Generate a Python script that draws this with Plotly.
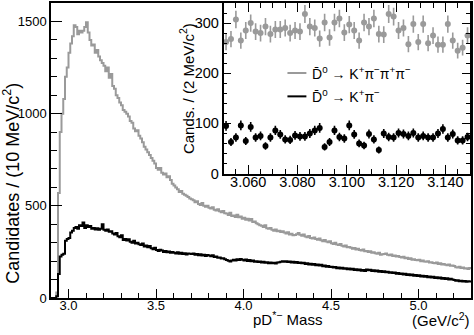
import numpy as np
import plotly.graph_objects as go

# ---------------- data ----------------
# main histogram: 10 MeV bins starting at 2.90 GeV
main_lo = 2.90
main_bin = 0.01
k3pi_counts = [
    0, 0, 0, 30, 570, 900, 1000, 1080, 1200, 1250,
    1330, 1380, 1420, 1480, 1470, 1430, 1450, 1440, 1450, 1470,
    1495, 1440, 1400, 1370, 1375, 1330, 1345, 1310, 1290, 1275,
    1260, 1230, 1250, 1195, 1215, 1150, 1135, 1100, 1085, 1060,
    1045, 1020, 1010, 1000, 985, 960, 950, 920, 905, 910,
    880, 865, 845, 820, 805, 790, 775, 760, 745, 730,
    705, 695, 705, 680, 670, 675, 655, 660, 640, 620,
    610, 600, 590, 575, 580, 565, 560, 555, 548, 540,
    535, 530, 520, 525, 510, 505, 515, 500, 495, 500,
    490, 485, 492, 478, 475, 482, 470, 465, 472, 460,
    458, 450, 462, 445, 448, 440, 452, 438, 442, 430,
    435, 425, 430, 420, 428, 412, 415, 405, 400, 395,
    392, 385, 395, 378, 375, 380, 370, 365, 372, 362,
    365, 358, 362, 355, 350, 356, 345, 348, 340, 342,
    346, 353, 343, 338, 344, 333, 330, 336, 326, 323,
    328, 320, 316, 323, 313, 308, 314, 306, 303, 308,
    297, 293, 300, 290, 287, 293, 283, 280, 285, 275,
    277, 273, 267, 271, 263, 267, 260, 257, 263, 253,
    255, 250, 253, 245, 248, 243, 240, 245, 235, 237,
    238, 242, 235, 232, 236, 228, 230, 225, 228, 222,
    220, 224, 216, 218, 212, 215, 208, 210, 206, 205,
    208, 200, 203, 198, 196, 200, 192, 194, 190, 188,
    192, 185, 188, 182, 184, 180, 178, 182, 175, 176,
    173, 167, 165, 169, 163, 165, 160, 162, 157, 163,
]
kpi_counts = [
    0, 0, 0, 10, 130, 225, 235, 240, 310, 320,
    325, 355, 365, 380, 385, 375, 395, 390, 410, 380,
    395, 385, 390, 375, 380, 372, 378, 370, 375, 400,
    370, 365, 372, 360, 362, 350, 345, 352, 335, 330,
    340, 315, 320, 312, 318, 305, 300, 310, 295, 300,
    292, 288, 295, 280, 285, 275, 282, 270, 265, 272,
    260, 255, 262, 258, 250, 255, 248, 252, 245, 250,
    246, 242, 248, 240, 245, 238, 243, 236, 241, 240,
    238, 242, 234, 239, 232, 237, 230, 235, 228, 233,
    230, 226, 232, 222, 225, 218, 220, 214, 216, 210,
    206, 202, 198, 203, 207, 203, 210, 206, 211, 207,
    204, 209, 201, 206, 199, 203, 197, 200, 195, 198,
    193, 196, 191, 194, 189, 192, 188, 191, 187, 192,
    194, 197, 200, 196, 199, 195, 198, 193, 196, 191,
    195, 190, 193, 188, 191, 185, 188, 182, 186, 180,
    184, 178, 182, 176, 180, 172, 176, 170, 174, 168,
    170, 165, 168, 162, 166, 160, 164, 158, 162, 156,
    160, 154, 158, 152, 156, 150, 154, 148, 152, 146,
    155, 150, 153, 147, 151, 145, 149, 143, 147, 141,
    145, 139, 143, 137, 140, 135, 138, 132, 136, 130,
    133, 128, 131, 125, 129, 123, 127, 121, 125, 119,
    123, 117, 121, 115, 119, 113, 117, 111, 115, 109,
    113, 107, 111, 105, 109, 103, 107, 101, 105, 100,
    98, 93, 96, 91, 94, 89, 92, 88, 91, 90,
]

# inset: 2 MeV bins starting at 3.050 GeV
inset_lo = 3.050
inset_bin = 0.002
inset_k3pi = [
    262, 268, 307, 265, 285, 300, 283, 280, 293, 278,
    287, 287, 290, 280, 285, 283, 318, 293, 290, 269,
    301, 271, 301, 309, 281, 297, 285, 265, 301, 293,
    309, 278, 277, 318, 313, 285, 290, 258, 298, 262,
    298, 260, 275, 257, 257, 298, 265, 245, 251, 275,
]
inset_kpi = [
    95, 63, 72, 96, 65, 93, 72, 75, 55, 72,
    86, 78, 68, 67, 76, 74, 74, 80, 86, 91,
    53, 63, 86, 73, 70, 96, 78, 60, 56, 79,
    68, 47, 80, 73, 72, 81, 79, 75, 81, 72,
    75, 72, 72, 80, 89, 72, 79, 66, 66, 73,
]

legend_labels = [
    "D\u0304<sup>0</sup> \u2192 K<sup>+</sup>\u03c0<sup>\u2212</sup>\u03c0<sup>+</sup>\u03c0<sup>\u2212</sup>",
    "D\u0304<sup>0</sup> \u2192 K<sup>+</sup>\u03c0<sup>\u2212</sup>",
]

GRAY = "#9a9a9a"
BLACK = "#000000"
FONT = "Liberation Sans, Arial, Helvetica, sans-serif"

# ---------------- derived ----------------
edges = main_lo + main_bin * np.arange(len(k3pi_counts) + 1)
y_k3pi = list(k3pi_counts) + [k3pi_counts[-1]]
y_kpi = list(kpi_counts) + [kpi_counts[-1]]
inset_x = inset_lo + inset_bin * (np.arange(len(inset_k3pi)) + 0.5)

fig = go.Figure()
fig.add_trace(go.Scatter(x=edges, y=y_k3pi, mode="lines", line=dict(color=GRAY, width=2, shape="hv"),
                         showlegend=False, xaxis="x", yaxis="y"))
fig.add_trace(go.Scatter(x=edges, y=y_kpi, mode="lines", line=dict(color=BLACK, width=2, shape="hv"),
                         showlegend=False, xaxis="x", yaxis="y"))
fig.add_trace(go.Scatter(x=inset_x, y=inset_k3pi, mode="markers",
                         marker=dict(color=GRAY, size=6),
                         error_y=dict(type="data", array=np.sqrt(inset_k3pi), color=GRAY, thickness=1.6, width=0),
                         showlegend=False, xaxis="x2", yaxis="y2"))
fig.add_trace(go.Scatter(x=inset_x, y=inset_kpi, mode="markers",
                         marker=dict(color=BLACK, size=6),
                         error_y=dict(type="data", array=np.sqrt(inset_kpi), color=BLACK, thickness=1.6, width=0),
                         showlegend=False, xaxis="x2", yaxis="y2"))

L, R, T, B = 51, 2, 1, 37
W, H = 474, 335
PW, PH = W - L - R, H - T - B


def px(xp):
    return (xp - L) / PW


def py(yp):
    return (H - B - yp) / PH


axis_common = dict(showline=True, linecolor="black", linewidth=1.5, showgrid=False, zeroline=False,
                   ticks="inside", tickcolor="black", tickwidth=1.3)

fig.update_layout(
    width=W, height=H,
    margin=dict(l=L, r=R, t=T, b=B),
    paper_bgcolor="white", plot_bgcolor="white",
    font=dict(family=FONT, color="black", size=13),
    xaxis=dict(domain=[0, 1], range=[2.9, 5.3], tick0=3.0, dtick=0.5, tickformat=".1f", ticklen=9,
               minor=dict(dtick=0.1, tick0=3.0, ticklen=5, ticks="inside", tickcolor="black", tickwidth=1.3),
               mirror=True, tickfont=dict(size=13), ticklabelstandoff=-5, **axis_common),
    yaxis=dict(domain=[0, 1], range=[0, 1600], tick0=0, dtick=500, ticklen=11,
               minor=dict(dtick=100, ticklen=6, ticks="inside", tickcolor="black", tickwidth=1.3),
               mirror=True, tickfont=dict(size=13), **axis_common),
    xaxis2=dict(domain=[px(224), px(471)], anchor="y2", range=[3.05, 3.15], tick0=3.06, dtick=0.02,
                tickformat=".3f", ticklen=9,
                minor=dict(dtick=0.005, ticklen=5, ticks="inside", tickcolor="black", tickwidth=1.3),
                mirror="allticks", tickfont=dict(size=14.5), ticklabelstandoff=-6, **axis_common),
    yaxis2=dict(domain=[py(172.7), 1.0], anchor="x2", range=[0, 340], tick0=0, dtick=100, ticklen=8,
                minor=dict(dtick=20, ticklen=4, ticks="inside", tickcolor="black", tickwidth=1.3),
                mirror="allticks", tickfont=dict(size=14.5), **axis_common),
)

annotations = [
    dict(text="Candidates / (10 MeV/c<sup>2</sup>)", x=px(12), y=py(183), xref="paper", yref="paper",
         textangle=-90, showarrow=False, font=dict(size=18), xanchor="center", yanchor="middle"),
    dict(text="pD<sup>*\u2212</sup> Mass", x=px(288), y=py(319), xref="paper", yref="paper",
         showarrow=False, font=dict(size=15), xanchor="center", yanchor="middle"),
    dict(text="(GeV/c<sup>2</sup>)", x=px(473), y=py(320), xref="paper", yref="paper",
         showarrow=False, font=dict(size=15), xanchor="right", yanchor="middle"),
    dict(text="Cands. / (2 MeV/c<sup>2</sup>)", x=px(187), y=py(87), xref="paper", yref="paper",
         textangle=-90, showarrow=False, font=dict(size=15), xanchor="center", yanchor="middle"),
]
leg_y = [71.5, 95]
for lab, yy in zip(legend_labels, leg_y):
    annotations.append(dict(text=lab, x=px(311), y=py(yy), xref="paper", yref="paper", showarrow=False,
                            font=dict(size=14), xanchor="left", yanchor="middle"))
fig.update_layout(annotations=annotations)

shapes = []
for col, yy in zip([GRAY, BLACK], leg_y):
    shapes.append(dict(type="line", xref="paper", yref="paper", x0=px(288), x1=px(307), y0=py(yy), y1=py(yy),
                       line=dict(color=col, width=2)))
fig.update_layout(shapes=shapes)

fig.write_html("out.html", config={"displayModeBar": False},
               post_script="document.body.style.margin='0px';document.body.style.padding='0px';")
